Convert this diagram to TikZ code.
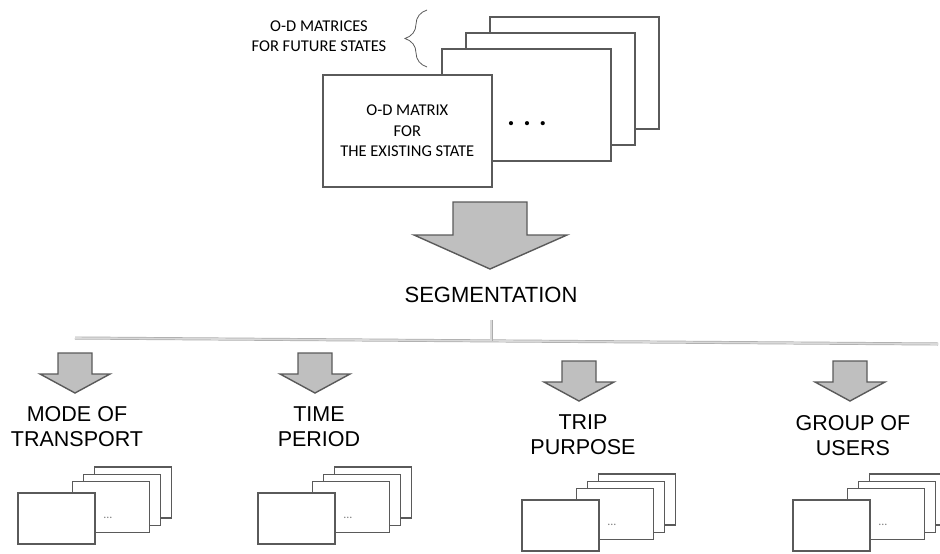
\documentclass[tikz,border=0pt]{standalone}
\usepackage{fontspec}
\usepackage{tikz}
\usetikzlibrary{decorations.pathreplacing}
\newfontfamily\calibfont{Carlito}
\newfontfamily\arialfont{Liberation Sans}
\definecolor{edgegray}{HTML}{5A5A5A}
\definecolor{arrowgray}{HTML}{BFBFBF}

\begin{document}
\begin{tikzpicture}[x=1pt,y=-1pt,
  sheet/.style={draw=edgegray,line width=1.6pt,fill=white},
  blockarrow/.style={draw=edgegray,line width=1.4pt,fill=arrowgray,line join=miter},
  dline/.style={draw=gray!65,double=gray!30,double distance=1.6pt,line width=0.7pt},
  toptext/.style={font=\calibfont\fontsize{16.5}{20.5}\selectfont,align=center,inner sep=0pt},
  cattext/.style={font=\arialfont\fontsize{21.5}{25}\selectfont,align=center,inner sep=0pt}]
  \useasboundingbox (0,0) rectangle (940,554);

  % O-D matrices, existing state in front
  \draw[sheet] (490,17) rectangle ++(169,112);
  \draw[sheet] (466,33) rectangle ++(169,112);
  \draw[sheet] (442,49) rectangle ++(169,112);
  \node[sheet,toptext,minimum width=169pt,minimum height=112pt,anchor=north west] (exist) at (322,74) {O-D MATRIX\\FOR\\THE EXISTING STATE};
  \node[font=\calibfont\bfseries\fontsize{28}{28}\selectfont,inner sep=0pt] (more) at (527,124) {. . .};

  % Brace for the future states
  \draw[edgegray,line width=0.8pt,decorate,decoration={brace,amplitude=22pt}] (427,67) -- (427,10);
  \node[toptext] (future) at (319,36) {O-D MATRICES\\FOR FUTURE STATES};

  % Main arrow
  \draw[blockarrow] (453,202) -- (527,202) -- (527,235) -- (567,235) -- (490,269) -- (414,235) -- (453,235) -- cycle;
  \node[cattext,font=\arialfont\fontsize{22}{25}\selectfont] (seg) at (491,295) {SEGMENTATION};

  % Splitting line
  \coordinate (hl) at (491,341);
  \draw[dline] (75,338) -- (938,344);
  \draw[dline,shorten <=17pt] (seg.south) -- (hl);

  % Segment arrows
  \foreach \ax/\ay in {75/353, 315/353, 579/361, 850/361}
    \draw[blockarrow] (\ax-17,\ay) -- ++(34,0) -- ++(0,21) -- ++(18,0) -- (\ax,\ay+40) -- (\ax-35,\ay+21) -- ++(18,0) -- cycle;

  \node[cattext] (mode) at (77,427) {MODE OF\\TRANSPORT};
  \node[cattext] (time) at (319,427) {TIME\\PERIOD};
  \node[cattext] (trip) at (583,435) {TRIP\\PURPOSE};
  \node[cattext] (group) at (853,436) {GROUP OF\\USERS};

  % Segmented matrices
  \foreach \sx/\sy in {18/493, 258/493, 522/500, 793/500} {
    \begin{scope}[shift={(\sx,\sy)},scale=0.456]
      \draw[sheet,line width=1.3pt] (168,-57) rectangle ++(169,112);
      \draw[sheet,line width=1.3pt] (144,-41) rectangle ++(169,112);
      \draw[sheet,line width=1.3pt] (120,-25) rectangle ++(169,112);
      \draw[sheet,line width=1.3pt] (0,0) rectangle (169,112);
      \node[text=gray,font=\calibfont\fontsize{12}{12}\selectfont,inner sep=0pt] (sd-\sx) at (197,55) {...};
    \end{scope}
  }
\end{tikzpicture}
\end{document}
